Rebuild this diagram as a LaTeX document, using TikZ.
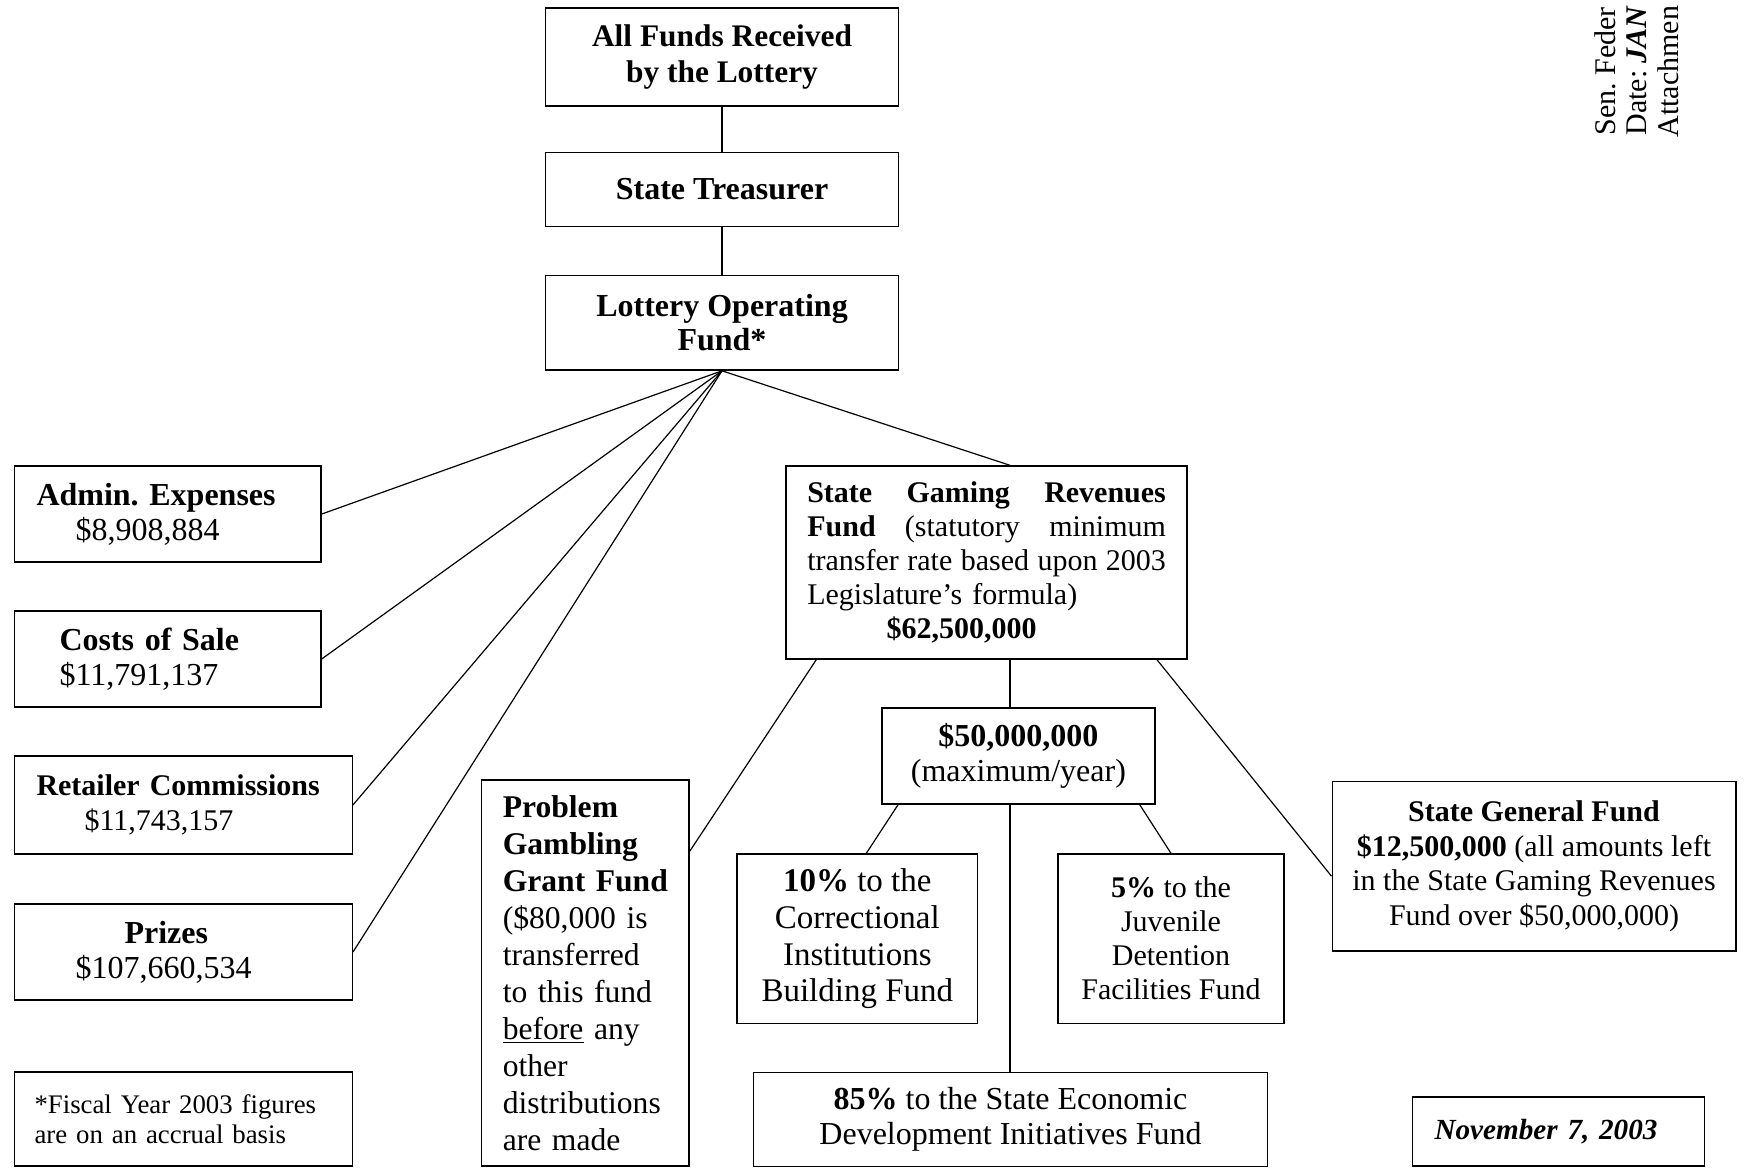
\documentclass[tikz,border=0pt]{standalone}
\usepackage{fontspec}
\setmainfont{Liberation Serif}
\usetikzlibrary{calc}
\newcommand\myfs[2]{\fontsize{#1}{#2}\selectfont\frenchspacing}
\begin{document}
\begin{tikzpicture}[x=0.5pt,y=-0.5pt,
  box/.style={draw, line width=0.7pt, inner sep=0pt, align=center},
  lbox/.style={draw, line width=0.7pt, inner xsep=11pt, inner ysep=0pt, align=left},
  conn/.style={line width=0.6pt},
  rot/.style={rotate=90, anchor=base west, inner sep=0pt, font=\myfs{15}{18}}]
\useasboundingbox[fill=white] (0,0) rectangle (1748,1168);
\coordinate (vx) at (1010,0);

% top chain
\node[box, minimum width=176.3pt, minimum height=49pt, font=\bfseries\myfs{15.7}{18.4}] (allf) at (722,57) {All Funds Received\\by the Lottery};
\node[box, minimum width=176.3pt, minimum height=36.8pt, font=\bfseries\myfs{16}{18.4}] (treas) at (722,189.5) {State Treasurer};
\node[box, minimum width=176.3pt, minimum height=47.4pt, font=\bfseries\myfs{16}{17.3}] (lof) at (722,322.7) {Lottery Operating\\Fund*};

% left column
\node[lbox, text width=131.3pt, minimum height=48pt, font=\myfs{16}{17.5}] (admin) at (167.8,514) {\textbf{Admin. Expenses}\\\hspace*{19.5pt}\$8,908,884};
\node[lbox, text width=131.3pt, minimum height=48pt, font=\myfs{16}{17.5}] (costs) at (167.8,658.9) {\hspace*{11.5pt}\textbf{Costs~of~Sale}\\\hspace*{11.5pt}\$11,791,137};
\node[lbox, text width=146.9pt, minimum height=49pt, font=\myfs{15}{17.5}] (retail) at (183.4,804.9) {\textbf{Retailer~Commissions}\\\hspace*{24pt}\$11,743,157};
\node[lbox, text width=146.9pt, minimum height=48pt, font=\myfs{16}{17.5}] (prizes) at (183.4,952) {\hspace*{44pt}\textbf{Prizes}\\\hspace*{19.5pt}\$107,660,534};
\node[lbox, inner xsep=10pt, text width=148.9pt, minimum height=47pt, font=\myfs{13.4}{15}] (foot) at (183.4,1119) {*Fiscal Year 2003 figures\\are on an accrual basis};

% problem gambling
\node[lbox, inner xsep=10.6pt, text width=82.5pt, minimum height=193pt, font=\myfs{15.8}{18.5}] (pg) at (585.3,973) {\textbf{Problem}\\\textbf{Gambling}\\\textbf{Grant~Fund}\\(\$80,000~is\\transferred\\to~this~fund\\\underline{before}~any\\other\\distributions\\are~made};

% state gaming revenues fund
\node[lbox, inner xsep=10.6pt, text width=179.3pt, minimum height=96.4pt, font=\myfs{15}{17}] (sgrf) at (986.6,562.4) {\textbf{State}\hfill\textbf{Gaming}\hfill\textbf{Revenues}\\\textbf{Fund}\hfill(statutory\hfill minimum\\transfer\hfill rate\hfill based\hfill upon\hfill 2003\\Legislature's~formula)\\\hspace*{39.6pt}\textbf{\$62,500,000}};

\node[box, minimum width=136.5pt, minimum height=48pt, font=\myfs{16}{17.8}] (m50) at (1018.4,755.8) {\textbf{\$50,000,000}\\(maximum/year)};

\node[box, minimum width=120.4pt, minimum height=84.7pt, font=\myfs{16.5}{18.4}] (c10) at (857.3,938.7) {\textbf{10\%} to the\\Correctional\\Institutions\\Building Fund};
\node[box, minimum width=113.1pt, minimum height=84.7pt, font=\myfs{15}{17}] (c5) at (1171,938.7) {\textbf{5\%} to the\\Juvenile\\Detention\\Facilities Fund};
\node[box, minimum width=257pt, minimum height=47pt, font=\myfs{16}{17.8}] (c85) at (1010.5,1119.2) {\textbf{85\%} to the State Economic\\Development Initiatives Fund};

\node[box, minimum width=201.8pt, minimum height=84.7pt, font=\myfs{15}{17.3}] (sgf) at (1534,866.2) {\textbf{State General Fund}\\\textbf{\$12,500,000} (all amounts left\\in the State Gaming Revenues\\Fund over \$50,000,000)};

\node[lbox, text width=124pt, minimum height=34.5pt, font=\bfseries\itshape\myfs{14.6}{17}] (nov) at (1558.5,1131.5) {November 7, 2003};

% rotated margin note
\node[rot] (sen) at (1615,136) {Sen. Feder};
\node[rot] (date) at (1646,136) {Date: \textit{\textbf{JAN}}};
\node[rot] (att) at (1678,138) {Attachmen};

% connectors
\draw[conn] (allf.south) -- (treas.north);
\draw[conn] (treas.south) -- (lof.north);
\draw[conn] (lof.south) -- (admin.east);
\draw[conn] (lof.south) -- (costs.east);
\draw[conn] (lof.south) -- (retail.east);
\draw[conn] (lof.south) -- (prizes.east);
\draw[conn] (lof.south) -- (sgrf.north -| vx);
\draw[conn] (sgrf.south -| vx) -- (m50.north -| vx);
\draw[conn] ($(sgrf.south west)+(31,0)$) -- ($(pg.north east)+(0,72)$);
\draw[conn] ($(sgrf.south east)+(-31,0)$) -- ($(sgf.west)+(0,10)$);
\draw[conn] ($(m50.south west)+(17,0)$) -- ($(c10.north)+(9,0)$);
\draw[conn] ($(m50.south east)+(-16,0)$) -- (c5.north);
\draw[conn] (m50.south -| vx) -- (c85.north -| vx);
\end{tikzpicture}
\end{document}
